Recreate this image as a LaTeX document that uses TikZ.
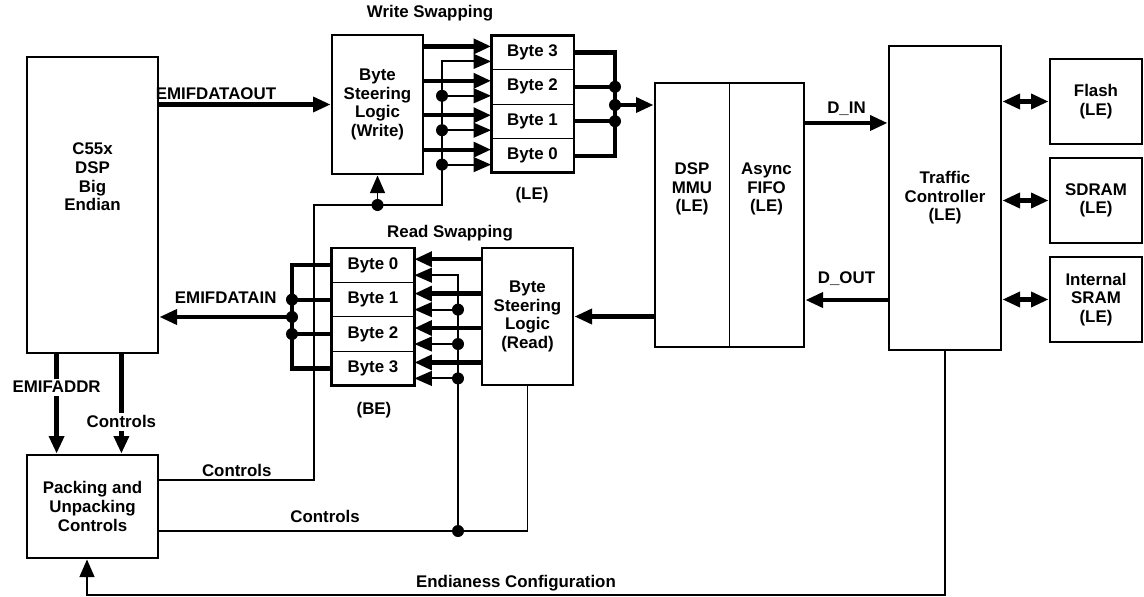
\documentclass[tikz,border=0pt]{standalone}
\usepackage{fontspec}
\setmainfont{Liberation Sans}
\usetikzlibrary{arrows.meta}

\begin{document}
\begin{tikzpicture}[
    x = 0.025cm,
    y = -0.025cm,
    node distance = 0.86cm,
    font = \bfseries\fontsize{12}{13.2}\selectfont,
    >= {Triangle[length = 12.5pt, width = 10.5pt]},
    frame/.style = {
        draw = black,
        line width = 2pt
    },
    block/.style = {
        frame,
        rectangle,
        align = center,
        inner sep = 0pt
    },
    cell/.style = {
        rectangle,
        draw = black,
        line width = 0.6pt,
        minimum width = 2.07cm,
        minimum height = 0.86cm,
        outer sep = 0pt,
        inner sep = 0pt
    },
    bus/.style = {line width = 3pt},
    ctrl/.style = {line width = 1.4pt},
    dot/.style = {
        circle,
        fill = black,
        inner sep = 0pt,
        minimum size = 0.3cm
    },
    lbl/.style = {align = center, inner sep = 2pt}
]
    \useasboundingbox (0,0) rectangle (1144,597);

    % Blocks
    \node [block, minimum width = 3.275cm, minimum height = 7.4cm] (dsp) at (92.5,205) {};
    \node [lbl] (dsptxt) at (92.5,177) {C55x\\DSP\\Big\\Endian};
    \node [block, minimum width = 3.275cm, minimum height = 2.575cm] (pack) at (92.5,506.5) {Packing and\\Unpacking\\Controls};
    \node [block, minimum width = 2.275cm, minimum height = 3.475cm] (wlogic) at (377.5,104.5) {Byte\\Steering\\Logic\\(Write)};
    \node [block, minimum width = 2.275cm, minimum height = 3.425cm] (rlogic) at (527.5,316.5) {Byte\\Steering\\Logic\\(Read)};
    \node [block, minimum width = 3.725cm, minimum height = 6.6cm] (mmubox) at (729.5,215) {};
    \draw [line width = 0.6pt] (mmubox.north) -- (mmubox.south);
    \node [lbl] (mmu) at (692,189) {DSP\\MMU\\(LE)};
    \node [lbl] (fifo) at (766.5,189) {Async\\FIFO\\(LE)};
    \node [block, minimum width = 2.8cm, minimum height = 7.6cm] (traffic) at (945,198) {Traffic\\Controller\\(LE)};
    \node [block, minimum width = 2.3cm, minimum height = 2.125cm] (flash) at (1096,101.5) {Flash\\(LE)};
    \node [block, minimum width = 2.3cm, minimum height = 2.125cm] (sdram) at (1096,200.5) {SDRAM\\(LE)};
    \node [block, minimum width = 2.3cm, minimum height = 2.125cm] (sram) at (1096,299.5) {Internal\\SRAM\\(LE)};

    % Byte stacks
    \node [cell] (wb3) at (532.5,52.4) {Byte 3};
    \node [cell, below of = wb3] (wb2) {Byte 2};
    \node [cell, below of = wb2] (wb1) {Byte 1};
    \node [cell, below of = wb1] (wb0) {Byte 0};
    \draw [frame] (wb3.north west) rectangle (wb0.south east);
    \node [cell] (rb0) at (373,265.2) {Byte 0};
    \node [cell, below of = rb0] (rb1) {Byte 1};
    \node [cell, below of = rb1] (rb2) {Byte 2};
    \node [cell, below of = rb2] (rb3) {Byte 3};
    \draw [frame] (rb0.north west) rectangle (rb3.south east);

    % Titles
    \node [lbl] (wtitle) at (430,13) {Write Swapping};
    \node [lbl] (wle) at (532,195) {(LE)};
    \node [lbl] (rtitle) at (450,233) {Read Swapping};
    \node [lbl] (rbe) at (374,410) {(BE)};

    % Write swapping
    \draw [bus, ->] (wlogic.west -| dsp.east) -- (wlogic.west) node [lbl, pos = 0.33, above] {EMIFDATAOUT};
    \foreach \b in {wb3, wb2, wb1, wb0} {
        \coordinate (\b hi) at ([yshift = 0.15cm]\b.west);
        \coordinate (\b lo) at ([yshift = -0.225cm]\b.west);
        \draw [bus, ->] (\b hi -| wlogic.east) -- (\b hi);
    }
    \coordinate (wjog) at (314,205);
    \coordinate (wtap) at (442,205);
    \draw [ctrl, ->] ([yshift = 0.66cm]pack.east) -| (wjog) node [lbl, pos = 0.25, above] {Controls}
        -- (wtap) -- (wtap |- wb3lo) -- (wb3lo);
    \foreach \b in {wb2, wb1, wb0} {
        \draw [ctrl, ->] (wtap |- \b lo) -- (\b lo);
        \node [dot] (d\b) at (wtap |- \b lo) {};
    }
    \draw [ctrl, ->] (wtap -| wlogic.south) -- (wlogic.south);
    \node [dot] (dwlogic) at (wtap -| wlogic.south) {};

    \coordinate (wm) at (615,105);
    \draw [bus] (wb3.east) -| (wm |- wb0.east) -- (wb0.east);
    \draw [bus] (wb2.east) -- (wm |- wb2.east);
    \draw [bus] (wb1.east) -- (wm |- wb1.east);
    \draw [bus, ->] (wm) -- (wm -| mmubox.west);
    \node [dot] (dwm2) at (wm |- wb2.east) {};
    \node [dot] (dwm) at (wm) {};
    \node [dot] (dwm1) at (wm |- wb1.east) {};

    % Traffic controller
    \coordinate (din) at ([yshift = 2.3cm]mmubox.east);
    \coordinate (dout) at ([yshift = -2.125cm]mmubox.east);
    \draw [bus, ->] (din) -- (din -| traffic.west) node [lbl, midway, above = 2pt] {D\_IN};
    \draw [bus, ->] (dout -| traffic.west) -- (dout) node [lbl, midway, above = 7pt] {D\_OUT};
    \foreach \m in {flash, sdram, sram}
        \draw [bus, <->] (\m.west -| traffic.east) -- (\m.west);

    % Read swapping
    \draw [bus, ->] (rlogic.east -| mmubox.west) -- (rlogic.east);
    \foreach \b in {rb0, rb1, rb2, rb3} {
        \coordinate (\b hi) at ([yshift = 0.15cm]\b.east);
        \coordinate (\b lo) at ([yshift = -0.25cm]\b.east);
        \draw [bus, ->] (\b hi -| rlogic.west) -- (\b hi);
    }
    \coordinate (rtap) at (458,531);
    \draw [ctrl] ([yshift = -0.61cm]pack.east) -| (rlogic.south) node [lbl, pos = 0.225, above = 3pt] {Controls};
    \draw [ctrl, ->] (rtap) -- (rtap |- rb0lo) -- (rb0lo);
    \foreach \b in {rb1, rb2, rb3} {
        \draw [ctrl, ->] (rtap |- \b lo) -- (\b lo);
        \node [dot] (d\b) at (rtap |- \b lo) {};
    }
    \node [dot] (drtap) at (rtap) {};

    \coordinate (rm) at (292,317);
    \draw [bus] (rb0.west) -| (rm |- rb3.west) -- (rb3.west);
    \draw [bus] (rb1.west) -- (rm |- rb1.west);
    \draw [bus] (rb2.west) -- (rm |- rb2.west);
    \draw [bus, ->] (rm) -- (rm -| dsp.east) node [lbl, midway, above = 6pt] {EMIFDATAIN};
    \node [dot] (drm1) at (rm |- rb1.west) {};
    \node [dot] (drm) at (rm) {};
    \node [dot] (drm2) at (rm |- rb2.west) {};

    % DSP to packing
    \coordinate (addr) at ([xshift = 0.775cm]dsp.south west);
    \coordinate (dctl) at ([xshift = -0.95cm]dsp.south east);
    \draw [bus, ->] (addr) -- (addr |- pack.north) node [lbl, fill = white, pos = 0.33] {EMIFADDR};
    \draw [bus, ->] (dctl) -- (dctl |- pack.north) node [lbl, fill = white, pos = 0.68] {Controls};

    % Configuration
    \coordinate (ecfg) at (87,595);
    \draw [ctrl, ->] (traffic.south) |- (ecfg) node [lbl, pos = 0.75, above] {Endianess Configuration}
        -- (ecfg |- pack.south);

\end{tikzpicture}
\end{document}
